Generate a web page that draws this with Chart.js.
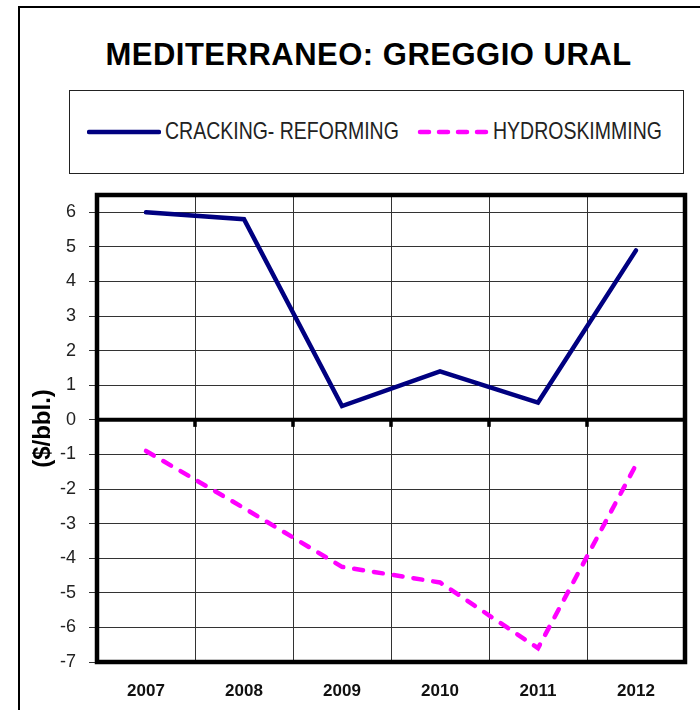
<!DOCTYPE html>
<html>
<head>
<meta charset="utf-8">
<script src="https://cdn.jsdelivr.net/npm/chart.js@4"></script>
<style>
  html, body { margin: 0; padding: 0; background: #fff; overflow: hidden; }
  #wrap { position: relative; width: 700px; height: 710px; font-family: "Liberation Sans", Arial, sans-serif; }
  #frame { position: absolute; left: 18px; top: 6px; width: 760px; height: 760px; border-left: 2px solid #000; border-top: 2px solid #000; }
  #title { position: absolute; left: 0; top: 39px; width: 737px; text-align: center; font-weight: bold; font-size: 31px; line-height: 31px; letter-spacing: 0.5px; color: #000; }
  #legend { position: absolute; left: 69px; top: 90px; width: 613px; height: 82px; border: 1px solid #222; }
  .lg-sample { position: absolute; top: 37px; }
  .lg-text { position: absolute; top: 28px; font-size: 24px; line-height: 24px; color: #222; white-space: nowrap; transform: scaleX(0.812); transform-origin: left top; }
  canvas { position: absolute; left: 0; top: 0; }
</style>
</head>
<body>
<div id="wrap">
  <div id="frame"></div>
  <div id="title">MEDITERRANEO: GREGGIO URAL</div>
  <div id="legend">
    <svg class="lg-sample" style="left:17px" width="74" height="8"><line x1="2" y1="4" x2="72" y2="4" stroke="#000080" stroke-width="4.5" stroke-linecap="round"/></svg>
    <div class="lg-text" style="left:95px">CRACKING- REFORMING</div>
    <svg class="lg-sample" style="left:347px" width="74" height="8"><line x1="3" y1="4" x2="71" y2="4" stroke="#ff00ff" stroke-width="4.5" stroke-linecap="round" stroke-dasharray="9 10"/></svg>
    <div class="lg-text" style="left:423px">HYDROSKIMMING</div>
  </div>
  <canvas id="chart" width="700" height="710"></canvas>
</div>
<script>
const years = ['2007', '2008', '2009', '2010', '2011', '2012'];
const crackingReforming = [6.0, 5.8, 0.4, 1.4, 0.5, 4.9];
const hydroskimming = [-0.9, -2.55, -4.25, -4.7, -6.6, -1.3];
const yMin = -7;
const yMax = 6.5;
const yStep = 1;

// plot area border, zero axis line and its small tick marks
const plotFrame = {
    id: 'plotFrame',
    beforeDatasetsDraw(chart) {
        const { ctx, chartArea: a, scales } = chart;
        const zeroY = scales.y.getPixelForValue(0);
        ctx.save();
        ctx.strokeStyle = '#000';
        ctx.lineWidth = 4;
        ctx.beginPath();
        ctx.moveTo(a.left, zeroY);
        ctx.lineTo(a.right, zeroY);
        ctx.stroke();
        ctx.fillStyle = '#000';
        for (let i = 1; i < years.length; i++) {
            const px = (scales.x.getPixelForTick(i - 1) + scales.x.getPixelForTick(i)) / 2;
            ctx.fillRect(px - 1.75, zeroY, 3.5, 7);
        }
        ctx.lineWidth = 4.5;
        ctx.strokeRect(a.left, a.top, a.right - a.left, a.bottom - a.top);
        ctx.restore();
    }
};

new Chart(document.getElementById('chart'), {
    type: 'line',
    data: {
        labels: years,
        datasets: [{
            label: 'CRACKING- REFORMING',
            data: crackingReforming,
            borderColor: '#000080',
            borderWidth: 4.5,
            borderCapStyle: 'round',
            pointRadius: 0,
            tension: 0
        }, {
            label: 'HYDROSKIMMING',
            data: hydroskimming,
            borderColor: '#ff00ff',
            borderWidth: 4.5,
            borderDash: [9, 11],
            borderCapStyle: 'round',
            pointRadius: 0,
            tension: 0
        }]
    },
    options: {
        responsive: false,
        animation: false,
        devicePixelRatio: 1,
        layout: { padding: { left: 25, top: 195, right: 15, bottom: 0 } },
        plugins: {
            legend: { display: false },
            title: { display: false },
            tooltip: { enabled: false }
        },
        scales: {
            x: {
                offset: true,
                grid: { offset: true, color: '#333', lineWidth: 1, drawTicks: false },
                border: { display: false },
                ticks: {
                    padding: 19,
                    color: '#111',
                    font: { family: 'Liberation Sans, Arial', size: 17, weight: 'bold' }
                },
                afterFit(scale) { scale.height = 48; }
            },
            y: {
                min: yMin,
                max: yMax,
                grid: { color: '#333', lineWidth: 1, tickLength: 8, tickColor: '#333' },
                border: { display: false },
                ticks: {
                    stepSize: yStep,
                    includeBounds: false,
                    padding: 13,
                    color: '#222',
                    font: { family: 'Liberation Sans, Arial', size: 18 }
                },
                afterBuildTicks(scale) {
                    scale.ticks = scale.ticks.filter(t => Number.isInteger(t.value));
                },
                title: {
                    display: true,
                    text: '($/bbl.)',
                    color: '#000',
                    font: { family: 'Liberation Sans, Arial', size: 24, weight: 'bold' }
                },
                afterFit(scale) { scale.width = 72; }
            }
        }
    },
    plugins: [plotFrame]
});
</script>
</body>
</html>
